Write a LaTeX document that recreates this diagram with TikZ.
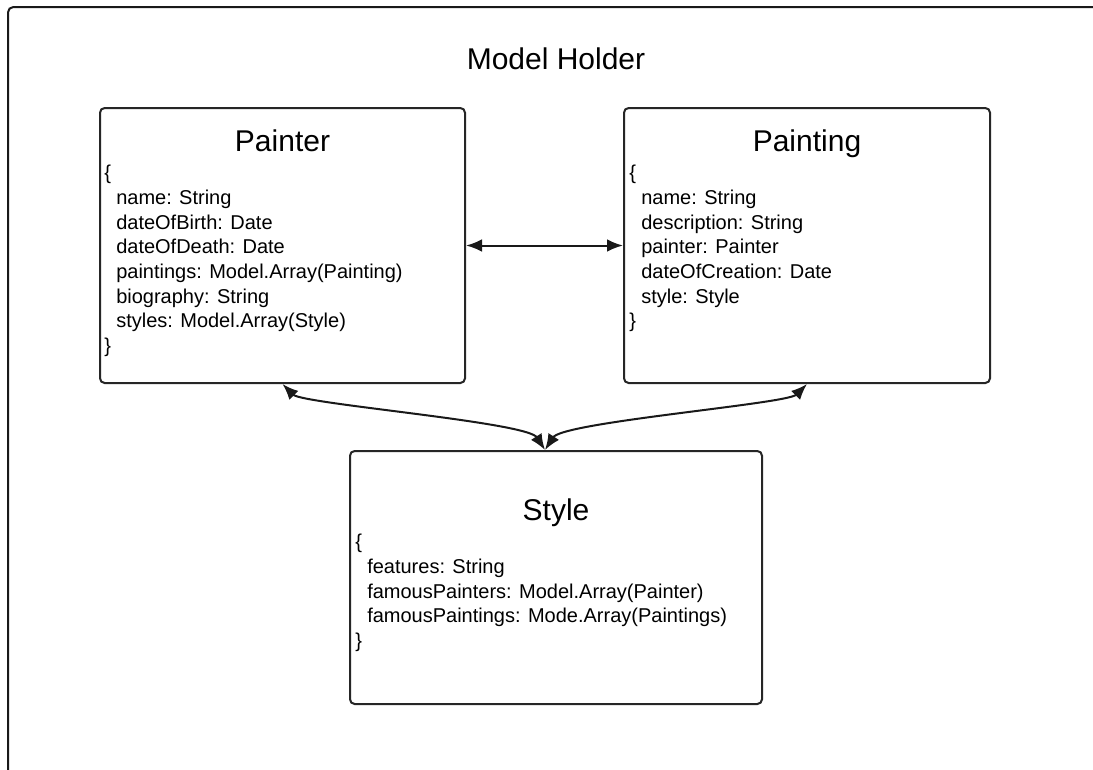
\documentclass[tikz,border=0pt]{standalone}
\usepackage{fontspec}
\setmainfont{Liberation Sans}
\usetikzlibrary{arrows.meta}
\newcommand{\fld}[1]{\hspace*{9pt}#1}
\tikzset{
    frame/.style={draw=black!90, line width=1.5pt, rounded corners=4pt},
    classbox/.style={draw=black!85, line width=1.5pt, rounded corners=3.5pt, fill=white},
    title/.style={anchor=base, font=\fontsize{22.5pt}{27pt}\selectfont},
    fields/.style={anchor=north west, align=left, font=\fontsize{15pt}{18.5pt}\selectfont},
    link/.style={draw=black!90, line width=1.5pt, {Latex[length=12pt,width=9.5pt]}-{Latex[length=12pt,width=9.5pt]}}
}
\begin{document}
\begin{tikzpicture}[x=0.75pt, y=-0.75pt]
    \useasboundingbox (0,0) rectangle (1093,769);
    \tikzstyle{every node}=[inner sep=0pt];
    \draw[frame] (8,7) rectangle (1130,800);
    \node[title] (holder) at (556,69) {Model Holder};
    \node[classbox, minimum width=365*0.75pt, minimum height=275*0.75pt] (painter) at (282.5,245.5) {};
    \node[classbox, minimum width=366*0.75pt, minimum height=275*0.75pt] (painting) at (807,245.5) {};
    \node[classbox, minimum width=412*0.75pt, minimum height=253*0.75pt] (style) at (556,577.5) {};
    \node[title] (painter-title) at (282.5,151) {Painter};
    \node[title] (painting-title) at (807,151) {Painting};
    \node[title] (style-title) at (556,520) {Style};
    \node[fields] (painter-fields) at (104,165) {\{\\
        \fld{name: String}\\
        \fld{dateOfBirth: Date}\\
        \fld{dateOfDeath: Date}\\
        \fld{paintings: Model.Array(Painting)}\\
        \fld{biography: String}\\
        \fld{styles: Model.Array(Style)}\\
        \}};
    \node[fields] (painting-fields) at (629,165) {\{\\
        \fld{name: String}\\
        \fld{description: String}\\
        \fld{painter: Painter}\\
        \fld{dateOfCreation: Date}\\
        \fld{style: Style}\\
        \}};
    \node[fields] (style-fields) at (355,534) {\{\\
        \fld{features: String}\\
        \fld{famousPainters: Model.Array(Painter)}\\
        \fld{famousPaintings: Mode.Array(Paintings)}\\
        \}};
    \draw[link] (painter.east) -- (painting.west);
    \draw[link] (painter.south) .. controls +(20,20) and +(-18,-28) .. ([xshift=-8.25pt]style.north);
    \draw[link] (painting.south) .. controls +(-20,20) and +(18,-28) .. ([xshift=-8.25pt]style.north);
\end{tikzpicture}
\end{document}
